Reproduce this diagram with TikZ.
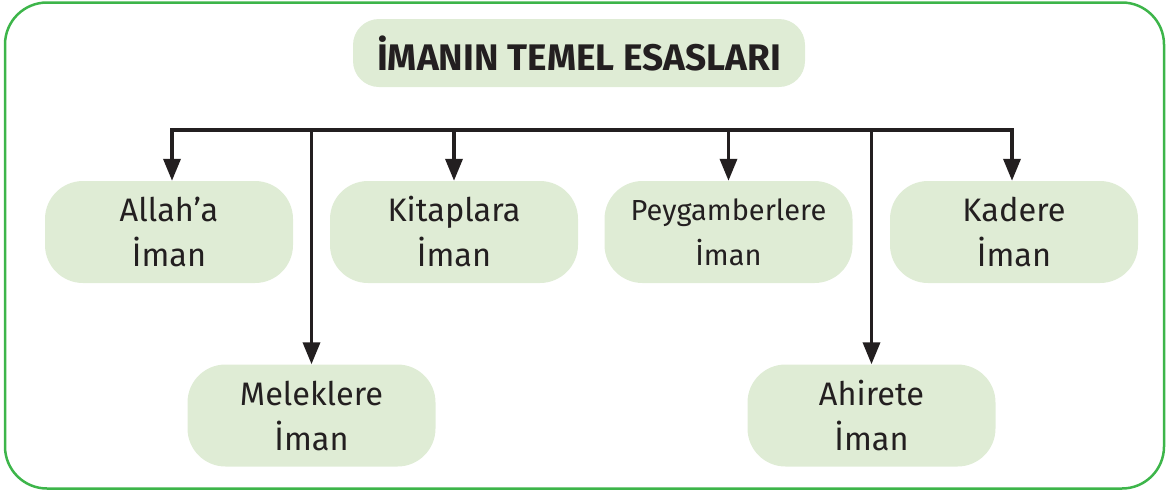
\documentclass[tikz,border=0pt]{standalone}
\usepackage{fontspec}
\setmainfont{Fira Sans}
\usetikzlibrary{arrows.meta,calc}
\definecolor{boxfill}{HTML}{DFECD5}
\definecolor{framegreen}{HTML}{3DB54A}
\definecolor{ink}{HTML}{231F20}
\begin{document}
\begin{tikzpicture}[x=1pt,y=-1pt,
  item/.style={fill=boxfill, rounded corners=38pt, minimum width=248pt, minimum height=102pt, inner sep=0pt, align=center, text=ink, font=\fontsize{32.5}{45}\selectfont},
  smallitem/.style={item, font=\fontsize{29}{45}\selectfont},
  titlebox/.style={fill=boxfill, rounded corners=26pt, minimum width=452pt, minimum height=68pt, inner sep=0pt, text=ink, font=\bfseries\fontsize{37}{40}\selectfont},
  conn/.style={draw=ink, line width=3.5pt, -{Triangle[length=22pt,width=17pt]}},
  tip/.tip={Triangle[length=22pt,width=17pt]}
]
\useasboundingbox (0,0) rectangle (1170,491);
\draw[framegreen, line width=2.5pt, rounded corners=42pt] (5,2.5) rectangle (1164,488.5);

\node[titlebox] (title) at (579,53) {İMANIN TEMEL ESASLARI};

\node[item] (allah) at (169,232) {Allah’a\\İman};
\node[item] (kitap) at (454,232) {Kitaplara\\İman};
\node[smallitem] (peyg) at (728.5,232) {Peygamberlere\\İman};
\node[item] (kader) at (1014,232) {Kadere\\İman};
\node[item] (melek) at (311.5,415.5) {Meleklere\\İman};
\node[item] (ahiret) at (871.5,415.5) {Ahirete\\İman};

\coordinate (b1) at ($(allah.north |- 0,130)+(3,0)$);
\coordinate (b2) at (melek.north |- 0,130);
\coordinate (b3) at (kitap.north |- 0,130);
\coordinate (b4) at (peyg.north |- 0,130);
\coordinate (b5) at (ahiret.north |- 0,130);
\coordinate (b6) at ($(kader.north |- 0,130)+(-2,0)$);

\draw[conn, tip-tip, line join=miter] (b1 |- allah.north) -- (b1) -- (b6) -- (b6 |- kader.north);
\draw[conn] (b2) -- (melek.north);
\draw[conn] (b3) -- (kitap.north);
\draw[conn] (b4) -- (peyg.north);
\draw[conn] (b5) -- (ahiret.north);
\end{tikzpicture}
\end{document}
